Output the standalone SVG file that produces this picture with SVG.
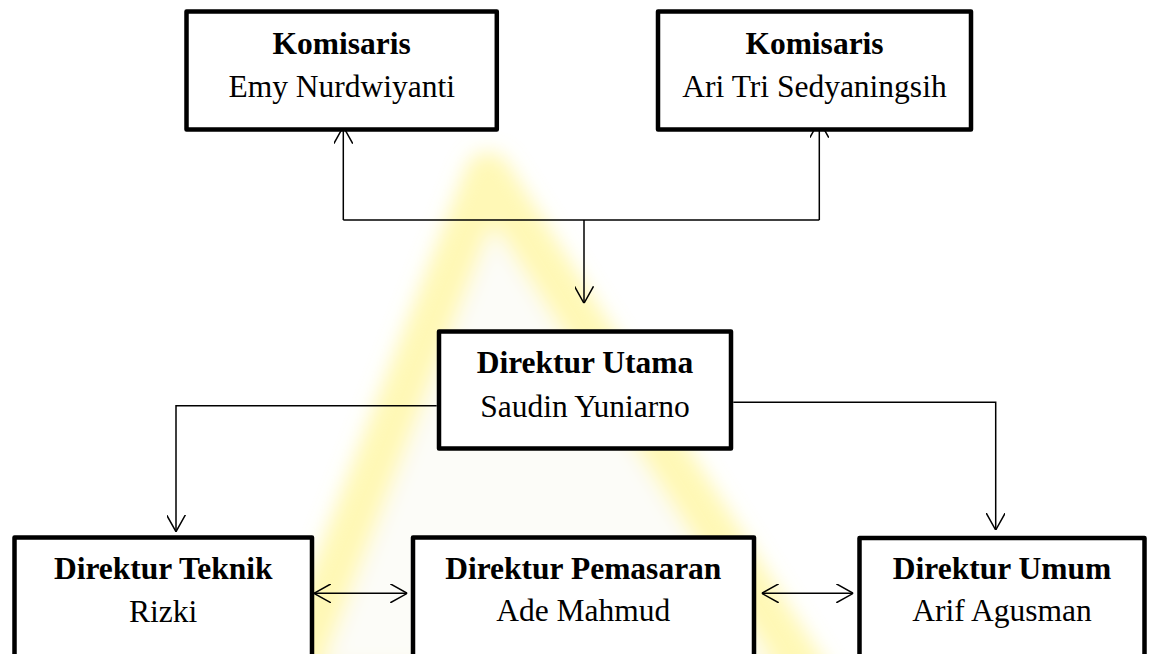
<svg xmlns="http://www.w3.org/2000/svg" width="1150" height="654" viewBox="0 0 1150 654">
  <style>
    .box { fill: #ffffff; stroke: #000000; stroke-width: 4.5; stroke-linejoin: round; }
    .title { font-family: "Liberation Serif", "Times New Roman", serif; font-weight: bold; font-size: 31.5px; fill: #000; text-anchor: middle; }
    .name { font-family: "Liberation Serif", "Times New Roman", serif; font-size: 31.5px; fill: #000; text-anchor: middle; }
    .conn { fill: none; stroke: #000; stroke-width: 1.5; }
  </style>
  <defs>
    <marker id="arrow" viewBox="0 0 17 19" refX="17" refY="9.5" markerWidth="17" markerHeight="19" markerUnits="userSpaceOnUse" orient="auto-start-reverse">
      <path d="M0,0 L17,9.5 L0,19" fill="none" stroke="#000" stroke-width="1.5"/>
    </marker>
    <filter id="blur" x="-20%" y="-20%" width="140%" height="140%">
      <feGaussianBlur stdDeviation="10"/>
    </filter>
  </defs>

  <rect x="0" y="0" width="1150" height="654" fill="#ffffff"/>

  <g id="watermark" filter="url(#blur)">
    <polygon points="488,175 290,690 815,690" fill="#fafaf2" stroke="#fff27a" stroke-width="46" stroke-linejoin="round" opacity="0.55"/>
  </g>

  <g id="connectors">
    <path class="conn" d="M343.3,220 V126.7" marker-end="url(#arrow)"/>
    <path class="conn" d="M819.3,220 V120.7" marker-end="url(#arrow)"/>
    <path class="conn" d="M343.3,220 H819.3"/>
    <path class="conn" d="M584,220 V303.3" marker-end="url(#arrow)"/>
    <path class="conn" d="M436.7,405.7 H176 V531.7" marker-end="url(#arrow)"/>
    <path class="conn" d="M733.3,402.3 H995.7 V530" marker-end="url(#arrow)"/>
    <path class="conn" d="M314,593.3 H407.3" marker-start="url(#arrow)" marker-end="url(#arrow)"/>
    <path class="conn" d="M761.7,593.3 H853.3" marker-start="url(#arrow)" marker-end="url(#arrow)"/>
  </g>

  <g id="komisaris-emy">
    <rect class="box" x="186.5" y="11.5" width="310.3" height="118"/>
    <text class="title" x="341.7" y="54">Komisaris</text>
    <text class="name" x="341.7" y="96.7">Emy Nurdwiyanti</text>
  </g>

  <g id="komisaris-ari">
    <rect class="box" x="658" y="11.5" width="313" height="118"/>
    <text class="title" x="814.5" y="54">Komisaris</text>
    <text class="name" x="814.5" y="96.7">Ari Tri Sedyaningsih</text>
  </g>

  <g id="direktur-utama">
    <rect class="box" x="439" y="331.5" width="292" height="117"/>
    <text class="title" x="585" y="373.3">Direktur Utama</text>
    <text class="name" x="585" y="416.5">Saudin Yuniarno</text>
  </g>

  <g id="direktur-teknik">
    <rect class="box" x="14.5" y="537.5" width="297.5" height="130"/>
    <text class="title" x="163.2" y="579">Direktur Teknik</text>
    <text class="name" x="163.2" y="621.5">Rizki</text>
  </g>

  <g id="direktur-pemasaran">
    <rect class="box" x="413" y="537.5" width="341" height="130"/>
    <text class="title" x="583.3" y="578.5">Direktur Pemasaran</text>
    <text class="name" x="583.3" y="620.5">Ade Mahmud</text>
  </g>

  <g id="direktur-umum">
    <rect class="box" x="859.5" y="538" width="285" height="130"/>
    <text class="title" x="1002" y="578.5">Direktur Umum</text>
    <text class="name" x="1002" y="620.5">Arif Agusman</text>
  </g>
</svg>
